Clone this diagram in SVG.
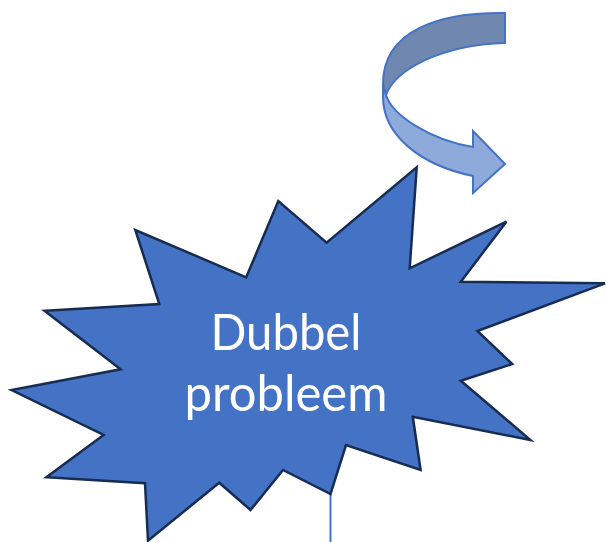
<svg xmlns="http://www.w3.org/2000/svg" width="606" height="542" viewBox="0 0 606 542">
<style>
.star{fill:#4472C4;stroke:#172C51;stroke-width:2.5;stroke-linejoin:miter}
.band{stroke:#4472C4;stroke-width:2;stroke-linejoin:miter}
.lbl{font-family:Lato,"Open Sans","Liberation Sans",sans-serif;font-size:51px;fill:#FFFFFF;text-anchor:middle}
.conn{stroke:#4472C4;stroke-width:2;fill:none}
</style>
<rect width="606" height="542" fill="#FFFFFF"/>
<g id="curved-arrow">
<path class="band" fill="#8EAADB" d="M383,84 L386,95 C392,115 430,140 473,147 L473,131 L505,164 L473,193 L473,176 C420,165 383,135 383,97 Z"/>
<path class="band" fill="#7088B0" d="M505,13 C440,12 383,30 383,84 L386,95 C395,70 440,45 505,43 Z"/>
</g>
<g id="connectors">
<line class="conn" x1="330.5" y1="494" x2="330.5" y2="542"/>
</g>
<g id="dubbel-probleem">
<polygon class="star" points="416.7,167.3 409.7,268.3 506.4,221.7 460.8,281.7 605,283.3 477.4,331 512.2,364 460.8,380.7 530.4,440 412.8,416.7 420.6,470 346,445 330.5,494 283,470 250.5,510 219.2,482.7 148,540.7 145,483.3 46.4,477.3 103.6,435 11.6,390 120.6,369.3 44.5,310.7 159.3,304 135.3,230 246.2,277.3 278.3,201 326.6,242.7"/>
<text class="lbl" x="286" y="350" textLength="151" lengthAdjust="spacingAndGlyphs">Dubbel</text>
<text class="lbl" x="286" y="411" textLength="203" lengthAdjust="spacingAndGlyphs">probleem</text>
</g>
</svg>
